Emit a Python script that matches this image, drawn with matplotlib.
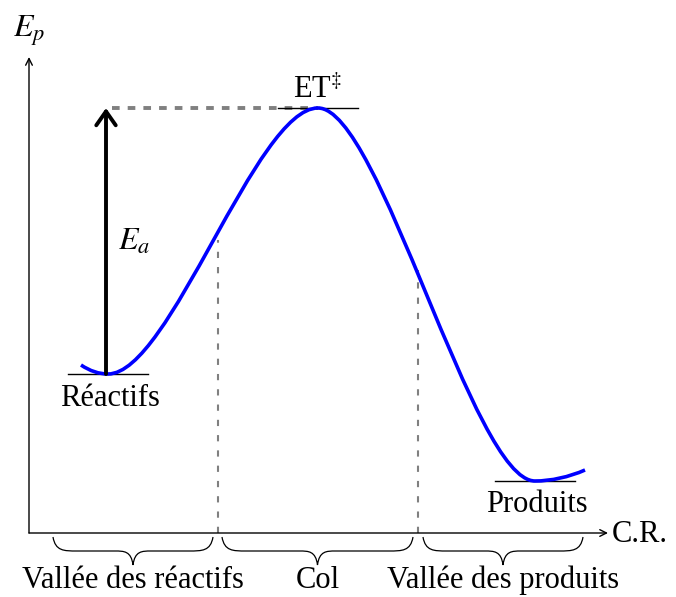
import numpy as np
import matplotlib.pyplot as plt
from matplotlib.path import Path
from matplotlib.patches import PathPatch

plt.rcParams['font.family'] = ['Liberation Serif', 'DejaVu Serif']
plt.rcParams['mathtext.fontset'] = 'stix'
plt.rcParams['lines.scale_dashes'] = False

# --- diagram data (reaction coordinate, potential energy) -------------------
level_names = ['Réactifs', r'ET$^{\ddagger}$', 'Produits']
level_x = [79, 289, 506]          # position of the extremum
level_E = [159, 425, 52]          # energy of the extremum
curve_start = (52, 168)
curve_end = (556, 63)
dividers = [189, 389]             # borders between the three regions
divider_E = [293, 263]            # where the divider meets the curve
regions = ['Vallée des réactifs', 'Col', 'Vallée des produits']
region_x = [(24, 184), (193, 384), (394, 554)]
x_max, E_max = 579, 476

BLUE = '#0000FF'
GREY = '#808080'

fig = plt.figure(figsize=(6.76, 5.97), dpi=100)
ax = fig.add_axes([0, 0, 1, 1])
ax.set_xlim(-29, 647)
ax.set_ylim(-64, 533)
ax.axis('off')

# axes with arrows
for tip in [(0, E_max), (x_max, 0)]:
    ax.annotate('', xy=tip, xytext=(0, 0),
                arrowprops=dict(arrowstyle='->', lw=1.0, color='black',
                                shrinkA=0, shrinkB=0, mutation_scale=12))
ax.text(0, 496, '$E_p$', fontsize=23, ha='center', va='baseline')
ax.text(583, -9, 'C.R.', fontsize=22, ha='left', va='baseline')

# potential energy curve: Bezier segments between the extrema
k = 62
verts = [curve_start,
         (61, 162), (70, level_E[0]), (level_x[0], level_E[0]),
         (level_x[0] + k, level_E[0]), (level_x[1] - k, level_E[1]), (level_x[1], level_E[1]),
         (level_x[1] + k, level_E[1]), (level_x[2] - k, level_E[2]), (level_x[2], level_E[2]),
         (522, level_E[2]), (540, 56), curve_end]
codes = [Path.MOVETO] + [Path.CURVE4] * 12
ax.add_patch(PathPatch(Path(verts, codes), fc='none', ec=BLUE, lw=2.6,
                       capstyle='butt', zorder=3))

# level ticks and labels
half = 40
label_dy = [-32, 10, -31]
for name, x, E, dy in zip(level_names, level_x, level_E, label_dy):
    ax.plot([x - half, x + half], [E, E], color='black', lw=1.0, zorder=2)
    ax.text(x + (0 if dy > 0 else 2), E + dy, name, fontsize=22,
            ha='center', va='baseline')

# activation energy
ax.plot([83, level_x[1]], [level_E[1], level_E[1]], color=GREY, lw=2.8,
        dashes=(5.5, 5.8), zorder=1)
ax.annotate('', xy=(77, level_E[1]), xytext=(77, level_E[0]),
            arrowprops=dict(arrowstyle='->, head_length=0.5, head_width=0.35',
                            lw=2.8, color='black', shrinkA=0, shrinkB=0,
                            mutation_scale=20), zorder=4)
ax.text(89, 283, '$E_a$', fontsize=23, ha='left', va='baseline')

# region dividers
for x, E in zip(dividers, divider_E):
    ax.plot([x, x], [0, E], color=GREY, lw=1.5, dashes=(4.5, 6.5), zorder=1)


def brace(x0, x1, top=-4, amp=28, qe=24, qt=18):
    xc = (x0 + x1) / 2
    mid, bot = top - amp / 2, top - amp
    v = [(x0, top), (x0 + 0.1 * qe, mid), (x0 + 0.45 * qe, mid), (x0 + qe, mid),
         (xc - qt, mid),
         (xc - 0.5 * qt, mid), (xc - 0.1 * qt, mid), (xc, bot),
         (xc + 0.1 * qt, mid), (xc + 0.5 * qt, mid), (xc + qt, mid),
         (x1 - qe, mid),
         (x1 - 0.45 * qe, mid), (x1 - 0.1 * qe, mid), (x1, top)]
    c = [Path.MOVETO, Path.CURVE4, Path.CURVE4, Path.CURVE4,
         Path.LINETO,
         Path.CURVE4, Path.CURVE4, Path.CURVE4,
         Path.CURVE4, Path.CURVE4, Path.CURVE4,
         Path.LINETO,
         Path.CURVE4, Path.CURVE4, Path.CURVE4]
    return Path(v, c)


for name, (x0, x1) in zip(regions, region_x):
    ax.add_patch(PathPatch(brace(x0, x1), fc='none', ec='black', lw=0.9))
    ax.text((x0 + x1) / 2, -55, name, fontsize=22, ha='center', va='baseline')

fig.savefig('out.png', dpi=100)
